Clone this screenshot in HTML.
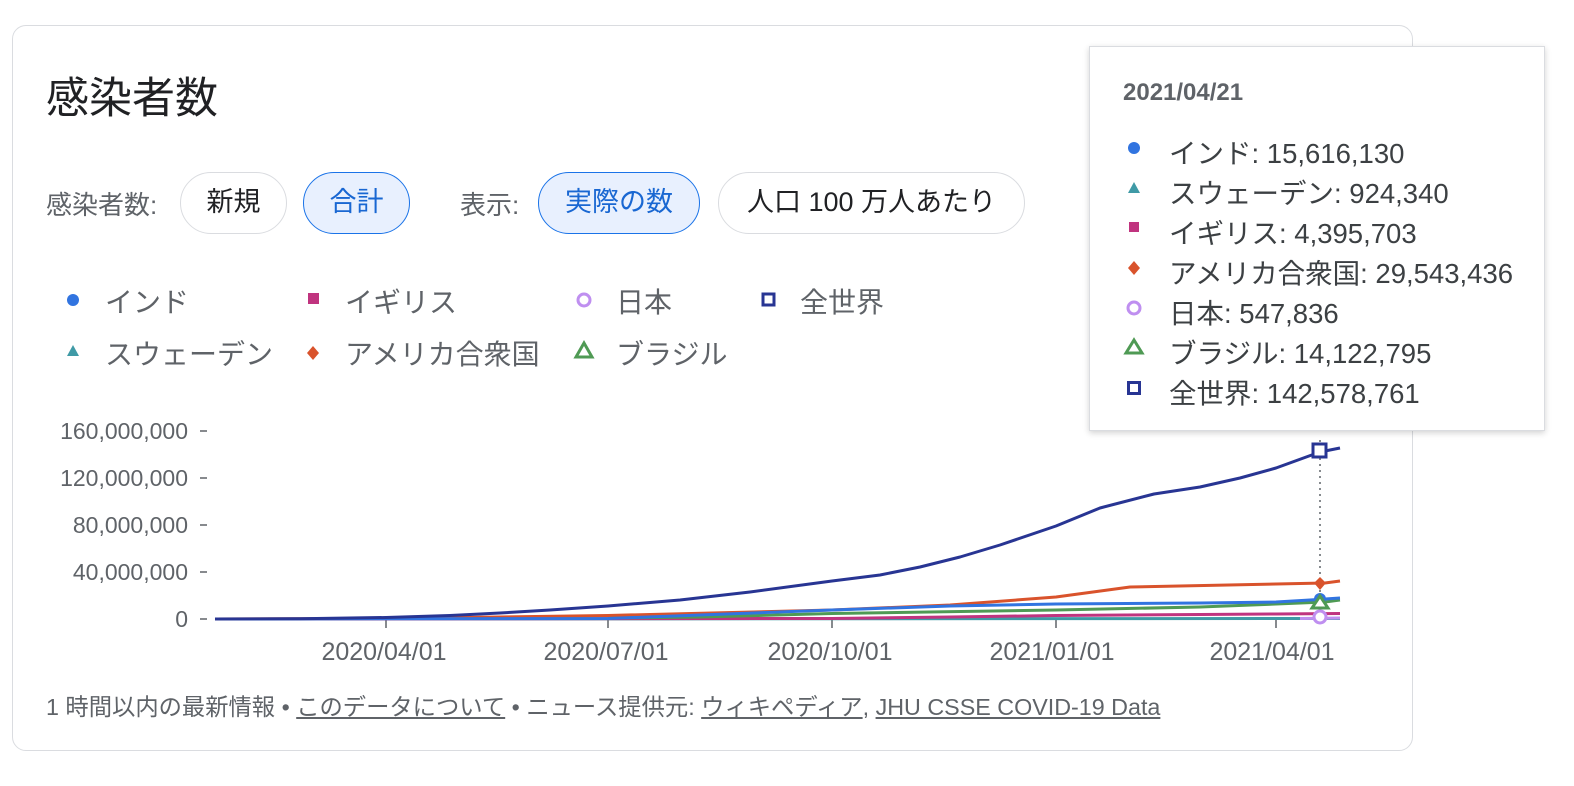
<!DOCTYPE html>
<html><head><meta charset="utf-8"><style>
*{margin:0;padding:0;box-sizing:border-box}
body{width:1574px;height:786px;background:#fff;position:relative;overflow:hidden;font-family:"Liberation Sans","Noto Sans CJK JP",sans-serif;color:#3c4043}
.card{position:absolute;left:12px;top:25px;width:1401px;height:726px;border:1.5px solid #dadce0;border-radius:14px}
.abs{position:absolute;white-space:nowrap}
.chip{position:absolute;top:172px;height:62px;border:1.5px solid #dadce0;border-radius:31px;font-size:27px;line-height:59px;text-align:center;color:#202124}
.sel{background:#e8f0fe;border-color:#1a73e8;color:#1967d2}
.lab{font-size:26px;color:#5f6368;top:185px}
.lg{font-size:28px;color:#5f6368}
.tip{position:absolute;left:1089px;top:46px;width:456px;height:385px;background:#fff;border:1px solid #dadce0;box-shadow:0 2px 6px rgba(0,0,0,.18)}
.ti{position:absolute;left:79px;font-size:27.5px;color:#3c4043;white-space:nowrap}
.foot{font-size:23.3px;color:#5f6368;top:688px;left:46px}
.foot u{text-decoration:underline}
</style></head><body>
<div class="card"></div>
<div class="abs" style="left:46px;top:64px;font-size:43px;color:#202124">感染者数</div>
<div class="abs lab" style="left:46px">感染者数:</div>
<div class="chip" style="left:180px;width:107px">新規</div>
<div class="chip sel" style="left:303px;width:107px">合計</div>
<div class="abs lab" style="left:460px">表示:</div>
<div class="chip sel" style="left:538px;width:162px">実際の数</div>
<div class="chip" style="left:718px;width:307px">人口 100 万人あたり</div>

<svg class="abs" style="left:0;top:0" width="1574" height="786">
<circle cx="73" cy="300" r="6" fill="#3174e0"/>
<rect x="308" y="293" width="11" height="11" fill="#c0347f"/>
<circle cx="584" cy="300" r="6" fill="none" stroke="#bf8ff0" stroke-width="3"/>
<rect x="763" y="294" width="11" height="11" fill="none" stroke="#283593" stroke-width="3"/>
<polygon points="73,345 79,356 67,356" fill="#3f9aa6"/>
<polygon points="313,346 319,353 313,360 307,353" fill="#d9532c"/>
<polygon points="584,343 592,357 576,357" fill="none" stroke="#4f9a54" stroke-width="3"/>
<g font-size="23" fill="#5f6368" text-anchor="end" font-family="Liberation Sans,sans-serif">
<text x="188" y="439">160,000,000</text><text x="188" y="486">120,000,000</text>
<text x="188" y="533">80,000,000</text><text x="188" y="580">40,000,000</text><text x="188" y="627">0</text>
</g>
<g stroke="#5f6368" stroke-width="1.5">
<line x1="200" y1="431" x2="207" y2="431"/><line x1="200" y1="478" x2="207" y2="478"/>
<line x1="200" y1="525" x2="207" y2="525"/><line x1="200" y1="572" x2="207" y2="572"/>
<line x1="200" y1="619" x2="207" y2="619"/>
<line x1="386" y1="620" x2="386" y2="628"/><line x1="608" y1="620" x2="608" y2="628"/>
<line x1="832" y1="620" x2="832" y2="628"/><line x1="1056" y1="620" x2="1056" y2="628"/>
<line x1="1276" y1="620" x2="1276" y2="628"/>
</g>
<g font-size="25" fill="#5f6368" text-anchor="middle" font-family="Liberation Sans,sans-serif">
<text x="384" y="660">2020/04/01</text><text x="606" y="660">2020/07/01</text>
<text x="830" y="660">2020/10/01</text><text x="1052" y="660">2021/01/01</text><text x="1272" y="660">2021/04/01</text>
</g>
<line x1="1320" y1="440" x2="1320" y2="619" stroke="#5f6368" stroke-width="1.5" stroke-dasharray="2,4"/>
<g fill="none" stroke-width="3" stroke-linejoin="round">
<polyline stroke="#3f9aa6" points="215,619 1340,618.5"/>
<polyline stroke="#bf8ff0" points="1300,618.5 1340,618"/>
<polyline stroke="#c0347f" points="215,619 832,618.5 950,617 1056,615.5 1200,614.5 1276,614 1340,613.5"/>
<polyline stroke="#4f9a54" points="608,618 700,617 832,613.5 1056,610 1200,607 1276,604 1325,602 1340,600"/>
<polyline stroke="#d9532c" points="215,619 386,618.5 608,615.5 832,610 950,605 1056,597 1130,587 1276,584 1325,583 1340,581"/>
<polyline stroke="#3174e0" points="215,619 608,618.5 700,615 832,610 950,606 1056,604 1200,603 1276,602 1310,600 1340,598"/>
<polyline stroke="#283593" points="215,619 300,618.8 386,617.5 450,615.5 500,613 550,610 608,606 680,600 750,592 832,581 880,575 920,567 960,557 1000,545 1056,526 1100,508 1154,494 1200,487 1240,478 1276,468 1320,452 1340,448"/>
</g>
<rect x="1313" y="444" width="13" height="13" fill="#fff" stroke="#283593" stroke-width="3"/>
<polygon points="1320,577 1326,583 1320,590 1314,583" fill="#d9532c"/>
<circle cx="1320" cy="599" r="6" fill="#3174e0"/>
<polygon points="1320,596 1328,608 1312,608" fill="#fff" stroke="#4f9a54" stroke-width="3"/>
<circle cx="1320" cy="617" r="6" fill="#fff" stroke="#bf8ff0" stroke-width="3"/>
</svg>

<div class="abs lg" style="left:105px;top:281px">インド</div>
<div class="abs lg" style="left:345px;top:281px">イギリス</div>
<div class="abs lg" style="left:616px;top:281px">日本</div>
<div class="abs lg" style="left:800px;top:281px">全世界</div>
<div class="abs lg" style="left:105px;top:333px">スウェーデン</div>
<div class="abs lg" style="left:345px;top:333px">アメリカ合衆国</div>
<div class="abs lg" style="left:616px;top:333px">ブラジル</div>

<div class="abs foot">1 時間以内の最新情報 • <u>このデータについて</u> • ニュース提供元: <u>ウィキペディア</u>, <u>JHU CSSE COVID-19 Data</u></div>

<div class="tip">
<div class="abs" style="left:33px;top:32px;font-size:24px;font-weight:bold;color:#5f6368">2021/04/21</div>
<svg class="abs" style="left:0;top:0" width="456" height="385">
<circle cx="44" cy="101" r="6" fill="#3174e0"/>
<polygon points="44,135 50,146 38,146" fill="#3f9aa6"/>
<rect x="39" y="175" width="10" height="10" fill="#c0347f"/>
<polygon points="44,214 50,221 44,228 38,221" fill="#d9532c"/>
<circle cx="44" cy="261" r="6" fill="none" stroke="#bf8ff0" stroke-width="3"/>
<polygon points="44,293 52,306 36,306" fill="none" stroke="#4f9a54" stroke-width="3"/>
<rect x="38.5" y="335.5" width="11" height="11" fill="none" stroke="#283593" stroke-width="3"/>
</svg>
<div class="ti" style="top:84px">インド: 15,616,130</div>
<div class="ti" style="top:124px">スウェーデン: 924,340</div>
<div class="ti" style="top:164px">イギリス: 4,395,703</div>
<div class="ti" style="top:204px">アメリカ合衆国: 29,543,436</div>
<div class="ti" style="top:244px">日本: 547,836</div>
<div class="ti" style="top:284px">ブラジル: 14,122,795</div>
<div class="ti" style="top:324px">全世界: 142,578,761</div>
</div>
</body></html>
